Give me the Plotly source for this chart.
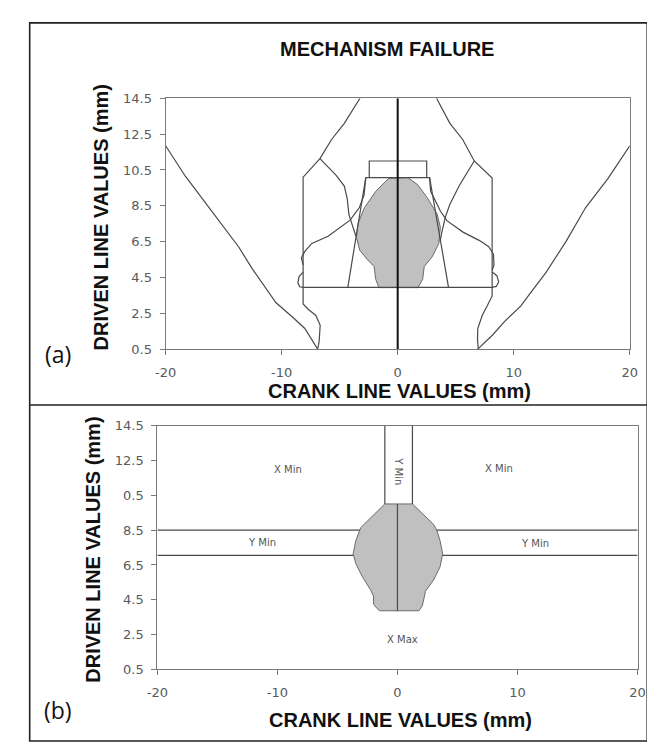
import plotly.graph_objects as go

W, H = 655, 742

# ---------------- Panel (a) data ----------------
outer_left_x = [-20, -18.3, -16.5, -15.0, -13.7, -12.5, -10.5, -9.0, -8.0, -6.9]
outer_left_y = [11.85, 10.15, 8.6, 7.3, 6.2, 4.95, 3.1, 2.25, 1.65, 0.5]
outer_right_x = [6.9, 8.2, 9.3, 10.6, 11.4, 12.8, 14.5, 16.2, 18.1, 20.0]
outer_right_y = [0.5, 1.3, 2.1, 2.9, 3.6, 4.8, 6.5, 8.4, 10.0, 11.85]

bowl_left_x = [-6.9, -6.77, -6.68, -7.05, -7.74, -8.15, -8.15, -6.7, -5.7, -4.6, -3.25]
bowl_left_y = [0.5, 0.92, 1.83, 2.38, 2.74, 3.02, 10.1, 11.13, 12.2, 13.1, 14.5]
bowl_right_x = [6.95, 6.88, 6.9, 7.3, 7.72, 8.14, 8.14, 6.6, 5.6, 4.5, 3.35]
bowl_right_y = [0.5, 1.0, 1.65, 2.4, 2.92, 3.47, 10.05, 11.0, 12.2, 13.1, 14.5]

branch_left_x = [-6.7, -5.3, -4.6, -4.35, -4.2, -3.9, -3.6]
branch_left_y = [11.13, 10.2, 9.6, 8.9, 8.0, 7.4, 6.8]
branch_right_x = [6.6, 5.35, 4.5, 4.1, 3.8, 3.65]
branch_right_y = [11.0, 9.67, 8.58, 7.85, 7.0, 6.5]

cross_left_x = [-8.15, -8.3, -8.0, -7.4, -6.0, -4.9, -4.1, -3.3, -2.9, -2.75]
cross_left_y = [5.2, 5.6, 5.95, 6.4, 6.8, 7.3, 7.7, 8.4, 9.1, 10.07]
cross_right_x = [2.75, 2.84, 3.68, 4.24, 5.63, 7.02, 7.85, 8.25, 8.3, 8.14]
cross_right_y = [10.07, 9.31, 8.21, 7.67, 7.03, 6.57, 6.21, 5.8, 5.2, 4.9]

loop_left_x = [-8.15, -8.5, -8.6, -8.45, -8.15]
loop_left_y = [4.8, 4.55, 4.2, 3.98, 3.95]
loop_right_x = [8.14, 8.55, 8.7, 8.5, 8.14]
loop_right_y = [4.8, 4.6, 4.25, 4.0, 3.95]

base_x = [-8.15, 8.14]
base_y = [3.95, 3.95]

trap_x = [-4.3, -2.75, 2.75, 4.38]
trap_y = [3.95, 10.07, 10.07, 3.95]

cap_x = [-2.45, -2.45, 2.5, 2.5]
cap_y = [10.07, 11.0, 11.0, 10.07]

blob_a_x = [0.89, -0.78, -1.89, -2.87, -3.43, -3.56, -3.28, -2.59, -2.03, -1.89, -1.61,
            1.73, 2.15, 2.29, 2.98, 3.54, 3.68, 3.4, 2.56, 1.73, 0.89]
blob_a_y = [10.07, 10.03, 9.31, 8.39, 7.49, 6.75, 6.03, 5.48, 5.11, 4.39, 3.93,
            3.93, 4.39, 5.11, 5.66, 6.39, 7.30, 8.03, 8.94, 9.67, 10.07]

# ---------------- Panel (b) data ----------------
blob_b_x = [-1.05, -3.06, -3.14, -3.47, -3.69, -3.47, -2.93, -2.25, -1.99, -1.99, -1.58, -1.44,
            1.79, 2.07, 2.25, 2.33, 3.01, 3.55, 3.77, 3.55, 3.28, 3.01, 1.25, -1.05]
blob_b_y = [10.0, 8.64, 8.49, 7.89, 7.14, 6.58, 5.83, 5.08, 4.71, 4.24, 3.92, 3.87,
            3.87, 4.15, 4.71, 4.99, 5.64, 6.39, 7.14, 7.89, 8.49, 8.83, 10.0, 10.0]
strip_left_x = [-1.05, -1.05]
strip_right_x = [1.25, 1.25]
strip_y = [10.0, 14.5]
ymin_upper_left_x = [-20, -3.14]
ymin_upper_right_x = [3.28, 20]
ymin_upper_y = [8.5, 8.5]
ymin_lower_left_x = [-20, -3.69]
ymin_lower_right_x = [3.77, 20]
ymin_lower_y = [7.05, 7.05]
center_b_x = [0, 0]
center_b_y = [3.87, 10.0]

region_labels = ["X Min", "X Min", "Y Min", "Y Min", "X Max", "Y Min"]
region_x = [-9.1, 8.5, -11.3, 11.5, 0.45, 0.1]
region_y = [12.0, 12.05, 7.8, 7.75, 2.2, 11.9]
region_angle = [0, 0, 0, 0, 0, 90]

# ---------------- Axes ticks ----------------
x_ticks = [-20, -10, 0, 10, 20]
x_labels = ["-20", "-10", "0", "10", "20"]
y_ticks = [0.5, 2.5, 4.5, 6.5, 8.5, 10.5, 12.5, 14.5]
y_labels_a = ["0.5", "2.5", "4.5", "6.5", "8.5", "10.5", "12.5", "14.5"]
y_labels_b = ["0.5", "2.5", "4.5", "6.5", "8.5", "0.5", "12.5", "14.5"]

LINE = "#4a4a4a"
AX = "#7a7a7a"

fig = go.Figure()


def add_line(x, y, xa, ya, color=LINE, width=1.2):
    fig.add_trace(go.Scatter(x=x, y=y, mode="lines", xaxis=xa, yaxis=ya,
                             line=dict(color=color, width=width), hoverinfo="skip",
                             showlegend=False))


# panel a
fig.add_trace(go.Scatter(x=blob_a_x, y=blob_a_y, mode="lines", fill="toself",
                         fillcolor="#c0c0c0", line=dict(color="#6a6a6a", width=1),
                         xaxis="x", yaxis="y", showlegend=False, hoverinfo="skip"))
for (lx, ly) in [(outer_left_x, outer_left_y), (outer_right_x, outer_right_y),
                 (bowl_left_x, bowl_left_y), (bowl_right_x, bowl_right_y),
                 (branch_left_x, branch_left_y), (branch_right_x, branch_right_y),
                 (cross_left_x, cross_left_y), (cross_right_x, cross_right_y),
                 (loop_left_x, loop_left_y), (loop_right_x, loop_right_y),
                 (base_x, base_y), (trap_x, trap_y), (cap_x, cap_y)]:
    add_line(lx, ly, "x", "y")
add_line([0, 0], [0.5, 14.5], "x", "y", color="#111111", width=2)

# panel b
fig.add_trace(go.Scatter(x=blob_b_x, y=blob_b_y, mode="lines", fill="toself",
                         fillcolor="#c0c0c0", line=dict(color="#6a6a6a", width=1),
                         xaxis="x2", yaxis="y2", showlegend=False, hoverinfo="skip"))
for (lx, ly) in [(strip_left_x, strip_y), (strip_right_x, strip_y),
                 (ymin_upper_left_x, ymin_upper_y), (ymin_upper_right_x, ymin_upper_y),
                 (ymin_lower_left_x, ymin_lower_y), (ymin_lower_right_x, ymin_lower_y),
                 (center_b_x, center_b_y)]:
    add_line(lx, ly, "x2", "y2")

for t, x, y, a in zip(region_labels, region_x, region_y, region_angle):
    fig.add_annotation(x=x, y=y, xref="x2", yref="y2", text=t, showarrow=False,
                       textangle=a, font=dict(family="DejaVu Sans", size=10, color="#555555"))


def px(x):
    return x / W


def py(y):
    return 1 - y / H


axis_common = dict(showline=True, mirror=True, linecolor=AX, linewidth=1,
                   ticks="outside", ticklen=5, tickcolor=AX, tickwidth=1,
                   showgrid=False, zeroline=False,
                   tickfont=dict(family="DejaVu Sans", size=13, color="#5a5a5a"))

fig.update_layout(
    width=W, height=H, margin=dict(l=0, r=0, t=0, b=0),
    paper_bgcolor="white", plot_bgcolor="white", showlegend=False,
    xaxis=dict(domain=[px(151), px(629)], range=[-20, 20], tickvals=x_ticks,
               ticktext=x_labels, anchor="y", ticklabelstandoff=6, **axis_common),
    yaxis=dict(domain=[py(341), py(85)], range=[0.5, 14.5], tickvals=y_ticks,
               ticktext=y_labels_a, anchor="x", ticklabelstandoff=5, **axis_common),
    xaxis2=dict(domain=[px(142.5), px(637)], range=[-20, 20], tickvals=x_ticks,
                ticktext=x_labels, anchor="y2", ticklabelstandoff=6, **axis_common),
    yaxis2=dict(domain=[py(668), py(419)], range=[0.5, 14.5], tickvals=y_ticks,
                ticktext=y_labels_b, anchor="x2", ticklabelstandoff=5, **axis_common),
)

texts = [
    ("<b>MECHANISM FAILURE</b>", 379, 35, 0),
    ("<b>CRANK LINE VALUES (mm)</b>", 392, 384, 0),
    ("<b>DRIVEN LINE VALUES (mm)</b>", 84, 207, -90),
    ("<b>CRANK LINE VALUES (mm)</b>", 393, 720, 0),
    ("<b>DRIVEN LINE VALUES (mm)</b>", 76, 546, -90),
]
for t, x, y, a in texts:
    fig.add_annotation(x=px(x), y=py(y), xref="paper", yref="paper", text=t,
                       showarrow=False, textangle=a, xanchor="center", yanchor="middle",
                       font=dict(family="Liberation Sans, Arial", size=20, color="#111111"))

for t, x, y in [("(a)", 40, 346), ("(b)", 40, 709)]:
    fig.add_annotation(x=px(x), y=py(y), xref="paper", yref="paper", text=t,
                       showarrow=False, xanchor="center", yanchor="middle",
                       font=dict(family="Open Sans", size=23, color="#111111"))

# outer frames
fig.add_shape(type="rect", xref="paper", yref="paper", x0=px(11), x1=px(647),
              y0=py(741), y1=py(8), line=dict(color="#222222", width=1.6))
fig.add_shape(type="line", xref="paper", yref="paper", x0=px(11), x1=px(647),
              y0=py(398), y1=py(398), line=dict(color="#222222", width=1.6))

fig.write_html("out.html")
